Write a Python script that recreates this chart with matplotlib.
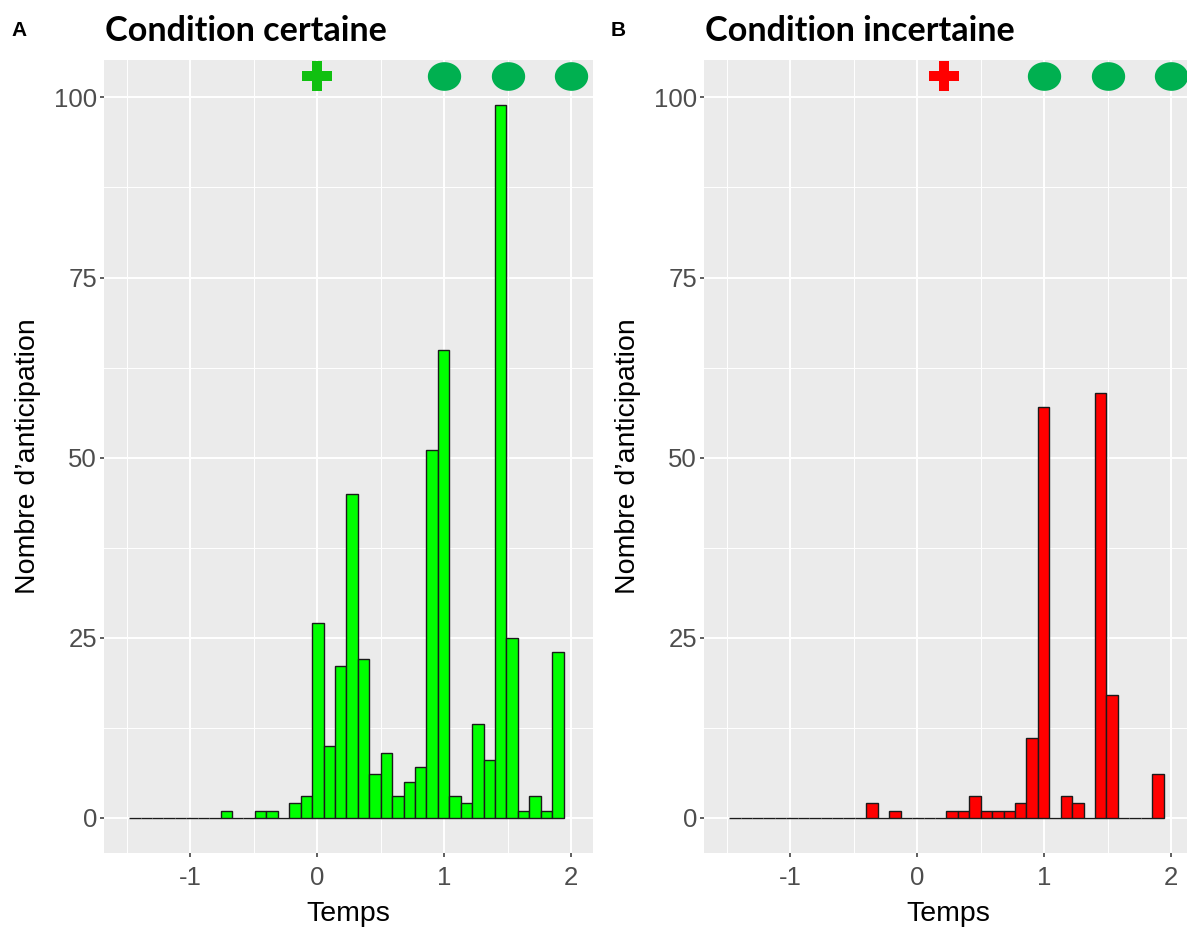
import numpy as np
import matplotlib.pyplot as plt
from matplotlib.path import Path

plt.rcParams['axes.unicode_minus'] = False

# histogram: 38 bins of 0.09 starting at -1.48
bin_start = -1.48
bin_width = 0.09
counts_certaine = [0, 0, 0, 0, 0, 0, 0, 0, 1, 0, 0, 1, 1, 0, 2, 3, 27, 10, 21, 45,
                   22, 6, 9, 3, 5, 7, 51, 65, 3, 2, 13, 8, 99, 25, 1, 3, 1, 23]
counts_incertaine = [0, 0, 0, 0, 0, 0, 0, 0, 0, 0, 0, 0, 2, 0, 1, 0, 0, 0, 0, 1,
                     1, 3, 1, 1, 1, 2, 11, 57, 0, 3, 2, 0, 59, 17, 0, 0, 0, 6]

# cue (+) and targets (circles) drawn above the bars
cue_certaine = 0.0
cue_incertaine = 0.21
targets = [1.0, 1.5, 2.0]
marker_y = 103

titles = ['Condition certaine', 'Condition incertaine']
letters = ['A', 'B']
fills = ['#00FF00', '#FF0000']
cue_colors = ['#10C010', '#FF0000']
target_color = '#00B050'

W, H = 1187, 930
fig = plt.figure(figsize=(W / 100, H / 100), dpi=100)

# ellipse marker a bit flatter than a circle
theta = np.linspace(0, 2 * np.pi, 80)
ellipse = Path(np.column_stack([np.cos(theta), 0.86 * np.sin(theta)]), closed=True)

panels = [(104, counts_certaine, cue_certaine), (704, counts_incertaine, cue_incertaine)]
for i, (left_px, counts, cue) in enumerate(panels):
    ax = fig.add_axes([left_px / W, 1 - 853 / H, 488.7 / W, 793 / H])
    ax.set_facecolor('#EBEBEB')
    for s in ax.spines.values():
        s.set_visible(False)

    edges = bin_start + bin_width * np.arange(len(counts))
    ax.bar(edges, counts, width=bin_width, align='edge', color=fills[i],
           edgecolor='#1a1a1a', linewidth=1.0, zorder=3)

    ax.plot([cue], [marker_y], marker='P', ms=21, color=cue_colors[i],
            markeredgewidth=0, zorder=4)
    ax.plot(targets, [marker_y] * len(targets), ls='none', marker=ellipse, ms=24,
            color=target_color, markeredgewidth=0, zorder=4)

    ax.set_xlim(-1.678, 2.169)
    ax.set_ylim(-4.9, 105.2)
    ax.set_xticks([-1, 0, 1, 2])
    ax.set_xticks([-1.5, -0.5, 0.5, 1.5], minor=True)
    ax.set_yticks([0, 25, 50, 75, 100])
    ax.set_yticks([12.5, 37.5, 62.5, 87.5], minor=True)
    ax.grid(which='major', color='white', lw=1.4, zorder=0)
    ax.grid(which='minor', color='white', lw=0.7, zorder=0)
    ax.set_axisbelow(True)
    ax.tick_params(which='major', length=3, width=1.1, color='#333333',
                   labelsize=18.5, labelcolor='#4D4D4D', pad=2)
    ax.tick_params(which='minor', length=0)
    ax.tick_params(axis='x', pad=6)
    for lab in ax.get_xticklabels() + ax.get_yticklabels():
        lab.set_fontfamily('Liberation Sans')

    ax.set_xlabel('Temps', fontsize=20.5, fontfamily='Liberation Sans', color='black')
    ax.set_ylabel('Nombre d\u2019anticipation', fontsize=20.5,
                  fontfamily='Liberation Sans', color='black')
    ax.xaxis.set_label_coords(0.5, -0.06)
    ax.yaxis.set_label_coords(-0.128, 0.5)

    fig.text((left_px - 93) / W, 1 - 31 / H, letters[i], fontsize=15,
             fontweight='bold', fontfamily='Liberation Sans', va='center')
    fig.text((left_px + 1) / W, 1 - 31 / H, titles[i], fontsize=24.6,
             fontweight='bold', fontfamily='Lato', va='center')

fig.savefig('out.png', dpi=100)
